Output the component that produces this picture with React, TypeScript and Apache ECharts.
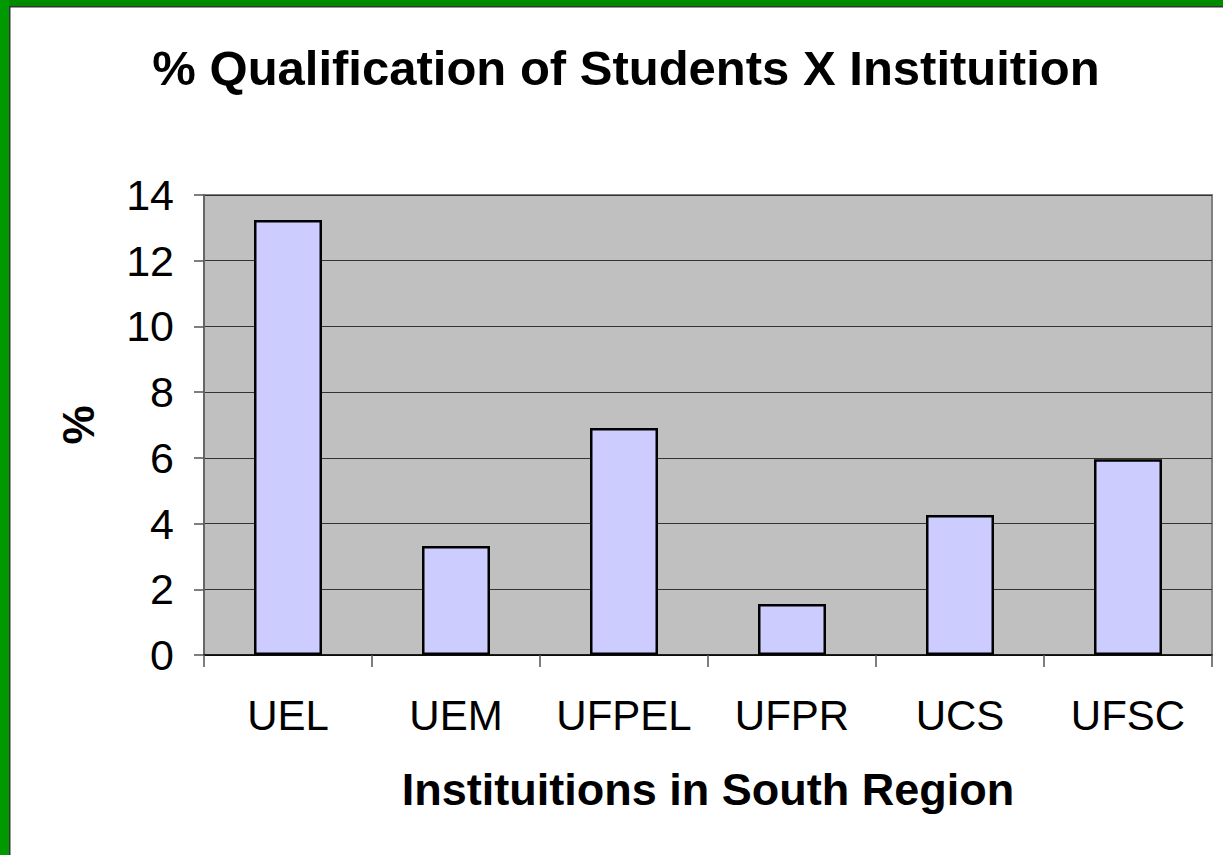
import React, { useEffect, useRef } from "react";
import * as echarts from "echarts";

const categories = ["UEL", "UEM", "UFPEL", "UFPR", "UCS", "UFSC"];
const values = [13.24, 3.32, 6.91, 1.55, 4.26, 5.96];

const FONT = "Liberation Sans, Arial, sans-serif";

export default function App() {
  const ref = useRef<HTMLDivElement>(null);
  useEffect(() => {
    document.body.style.margin = "0";
    const chart = echarts.init(ref.current!, null, { renderer: "svg" });
    chart.setOption({
      animation: false,
      backgroundColor: "#ffffff",
      title: {
        text: "% Qualification of Students X Instituition",
        left: 621,
        top: 38,
        textAlign: "center",
        textStyle: { fontFamily: FONT, fontSize: 49, fontWeight: "bold", color: "#000" },
      },
      graphic: [
        { type: "rect", shape: { x: 0, y: 0, width: 1223, height: 6 }, style: { fill: "#008a00" }, z: 100 },
        { type: "rect", shape: { x: 0, y: 0, width: 9, height: 855 }, style: { fill: "#009900" }, z: 100 },
        { type: "rect", shape: { x: 9, y: 6, width: 1214, height: 1.5 }, style: { fill: "#333333" }, z: 100 },
        { type: "rect", shape: { x: 9, y: 6, width: 1.5, height: 849 }, style: { fill: "#333333" }, z: 100 },
      ],
      grid: {
        left: 204,
        top: 195,
        width: 1008,
        height: 460,
        show: true,
        backgroundColor: "#C0C0C0",
        borderColor: "#808080",
        borderWidth: 2,
      },
      xAxis: {
        type: "category",
        data: categories,
        name: "Instituitions in South Region",
        nameLocation: "middle",
        nameGap: 112,
        nameTextStyle: { fontFamily: FONT, fontSize: 45, fontWeight: "bold", color: "#000" },
        axisLine: { show: true, lineStyle: { color: "#000", width: 1.5 } },
        axisTick: { show: true, interval: 0, alignWithLabel: false, length: 12, lineStyle: { color: "#555", width: 1.5 } },
        axisLabel: { fontFamily: FONT, fontSize: 42, color: "#000", margin: 39, interval: 0, hideOverlap: false },
      },
      yAxis: {
        type: "value",
        min: 0,
        max: 14,
        interval: 2,
        name: "%",
        nameLocation: "middle",
        nameRotate: 90,
        nameGap: 104,
        nameTextStyle: { fontFamily: FONT, fontSize: 44, fontWeight: "bold", color: "#000" },
        axisLine: { show: true, lineStyle: { color: "#666", width: 2 } },
        axisTick: { show: true, length: 10, lineStyle: { color: "#555", width: 1.5 } },
        axisLabel: { fontFamily: FONT, fontSize: 43, color: "#000", margin: 30 },
        splitLine: { show: true, lineStyle: { color: "#333", width: 1 } },
      },
      series: [
        {
          type: "bar",
          data: values,
          barWidth: 68,
          itemStyle: { color: "#CCCCFF", borderColor: "#000", borderWidth: 2.5 },
        },
      ],
    });
    return () => chart.dispose();
  }, []);
  return <div ref={ref} style={{ position: "absolute", left: 0, top: 0, width: 1223, height: 855 }} />;
}
